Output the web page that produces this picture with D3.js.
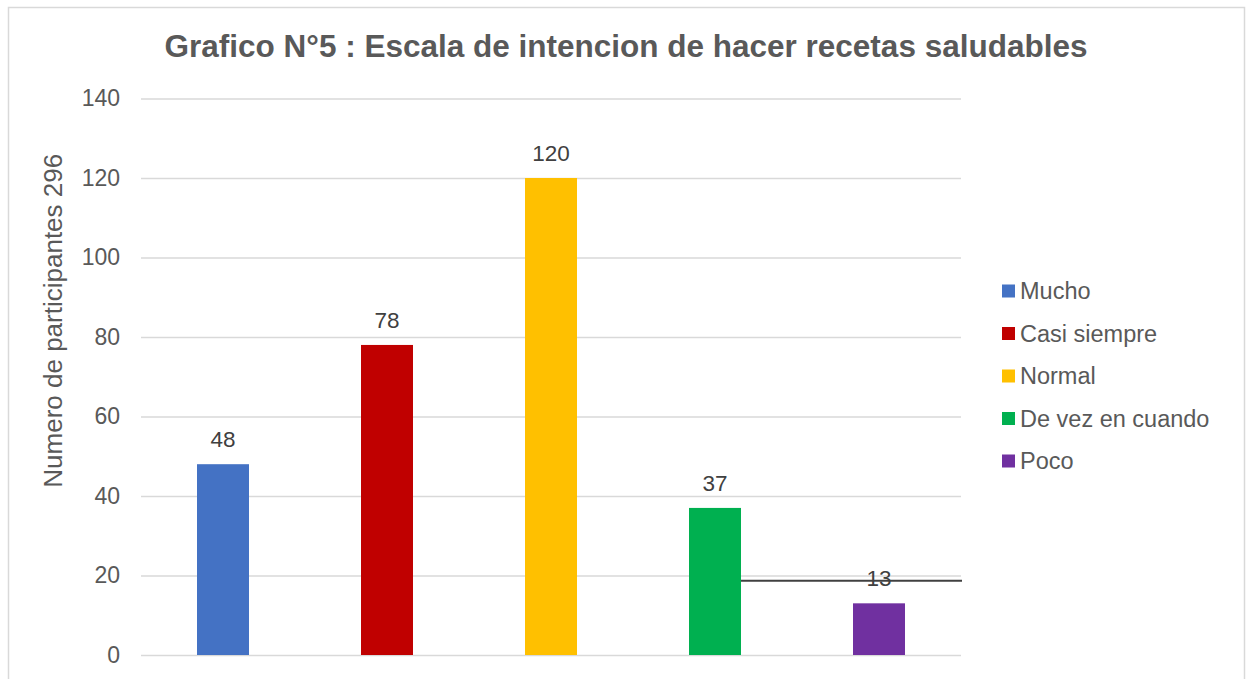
<!DOCTYPE html>
<html>
<head>
<meta charset="utf-8">
<script src="https://cdn.jsdelivr.net/npm/d3@7"></script>
<style>
  body { margin: 0; background: #fff; }
  text { font-family: "Liberation Sans", Arial, sans-serif; }
</style>
</head>
<body>
<div id="chart"></div>
<script>
const categories = ["Mucho", "Casi siempre", "Normal", "De vez en cuando", "Poco"];
const values = [48, 78, 120, 37, 13];
const colors = ["#4472c4", "#c00000", "#ffc000", "#00b050", "#7030a0"];
const yTicks = [0, 20, 40, 60, 80, 100, 120, 140];
// stray horizontal line in the original, sitting at about this value
const strayLineValue = 18.7;

function draw() {
  const width = 1246, height = 679;
  const margin = { left: 141, right: 285, top: 98.5, bottom: 24 };

  const svg = d3.select("#chart").append("svg")
    .attr("width", width)
    .attr("height", height);

  // chart border
  svg.append("rect")
    .attr("x", 8.5).attr("y", 7.5)
    .attr("width", 1236).attr("height", 690)
    .attr("fill", "#fff")
    .attr("stroke", "#d9d9d9")
    .attr("stroke-width", 1.5);

  const x = d3.scaleBand()
    .domain(categories)
    .range([margin.left, width - margin.right])
    .paddingInner(0.683)
    .paddingOuter(0.3415);

  const y = d3.scaleLinear()
    .domain([0, 140])
    .range([height - margin.bottom, margin.top]);

  // gridlines + tick labels
  const yAxis = d3.axisLeft(y)
    .tickValues(yTicks)
    .tickSize(-(width - margin.right - margin.left))
    .tickPadding(12);

  const g = svg.append("g")
    .attr("transform", `translate(${margin.left},0)`)
    .call(yAxis);
  g.select(".domain").remove();
  g.selectAll(".tick line").attr("stroke", "#d9d9d9").attr("stroke-width", 1.3);
  g.selectAll(".tick text")
    .attr("fill", "#595959")
    .style("font-size", "23px")
    .attr("x", -21);

  // bars
  svg.append("g")
    .selectAll("rect")
    .data(values)
    .join("rect")
      .attr("x", (d, i) => x(categories[i]))
      .attr("y", d => y(d))
      .attr("width", x.bandwidth())
      .attr("height", d => y(0) - y(d))
      .attr("fill", (d, i) => colors[i]);

  // value labels
  svg.append("g")
    .selectAll("text")
    .data(values)
    .join("text")
      .attr("x", (d, i) => x(categories[i]) + x.bandwidth() / 2)
      .attr("y", d => y(d) - 17)
      .attr("text-anchor", "middle")
      .attr("fill", "#404040")
      .style("font-size", "22.5px")
      .text(d => d);

  // stray black line from the 4th bar to the plot edge
  svg.append("line")
    .attr("x1", x(categories[3]) + x.bandwidth())
    .attr("x2", width - margin.right + 1)
    .attr("y1", y(strayLineValue))
    .attr("y2", y(strayLineValue))
    .attr("stroke", "#404040")
    .attr("stroke-width", 2);

  // title
  svg.append("text")
    .attr("x", 626)
    .attr("y", 57)
    .attr("text-anchor", "middle")
    .attr("fill", "#595959")
    .style("font-size", "31.5px")
    .style("font-weight", "bold")
    .text("Grafico N°5 : Escala de intencion de hacer recetas saludables");

  // y axis title
  svg.append("text")
    .attr("transform", `translate(62,${(y(0) + y(140)) / 2 - 56}) rotate(-90)`)
    .attr("text-anchor", "middle")
    .attr("fill", "#595959")
    .style("font-size", "26px")
    .text("Numero de participantes 296");

  // legend
  const legend = svg.append("g")
    .selectAll("g")
    .data(categories)
    .join("g")
      .attr("transform", (d, i) => `translate(1002,${291 + i * 42.5})`);
  legend.append("rect")
    .attr("x", 0).attr("y", -6.5)
    .attr("width", 13).attr("height", 13)
    .attr("fill", (d, i) => colors[i]);
  legend.append("text")
    .attr("x", 18)
    .attr("y", 8)
    .attr("fill", "#595959")
    .style("font-size", "23.5px")
    .text(d => d);
}
draw();
</script>
</body>
</html>
